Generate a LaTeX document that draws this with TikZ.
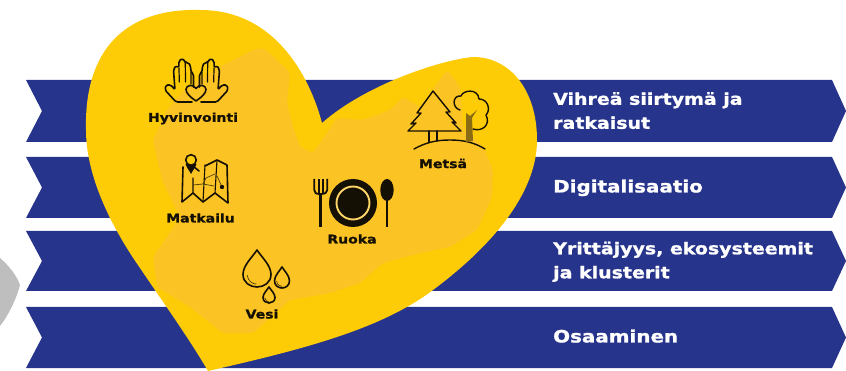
\documentclass[tikz,border=0pt]{standalone}
\usepackage{fontspec}
\setmainfont{DejaVu Sans}
\newfontfamily\heavyfont{DejaVu Sans}[UprightFont={* Bold},FakeStretch=1.17,FakeBold=1.2]
\usetikzlibrary{calc}
\definecolor{bandblue}{HTML}{27348B}
\definecolor{heartyellow}{HTML}{FECC07}
\definecolor{mapyellow}{HTML}{FCC324}
\definecolor{icondark}{HTML}{151004}
\definecolor{greyland}{HTML}{BEBEBE}
\definecolor{trunkcol}{HTML}{8A6C12}
\tikzset{
  band/.style={fill=bandblue,draw=none},
  bandtext/.style={text=white,font=\heavyfont\fontsize{17}{24}\selectfont,align=left,anchor=west,inner sep=0pt,text depth=0pt},
  bandtextsmall/.style={bandtext,font=\heavyfont\fontsize{16.2}{24}\selectfont},
  iconlabel/.style={text=icondark,font=\heavyfont\fontsize{12}{13}\selectfont,inner sep=0pt},
  iconline/.style={draw=icondark,line width=1.6pt,line join=round,line cap=round,fill=none},
  thinline/.style={draw=icondark!75!heartyellow,line width=0.7pt,line cap=round}
}
\newcommand{\bandshape}[2]{\fill[band] (26,#1) -- (832,#1) -- (846,{(#1+#2)/2}) -- (832,#2) -- (26,#2) -- (42,{(#1+#2)/2}) -- cycle;}
\newcommand{\dropshape}[4]{% cx, tip y, bottom y, half width
  \draw[iconline] (#1,#2) .. controls ({#1+0.35*#4},{#2+0.2*(#3-#2)}) and (#1+#4,{#2+0.42*(#3-#2)}) .. (#1+#4,{#2+0.66*(#3-#2)})
    .. controls (#1+#4,{#2+0.88*(#3-#2)}) and ({#1+0.5*#4},#3) .. (#1,#3)
    .. controls ({#1-0.5*#4},#3) and (#1-#4,{#2+0.88*(#3-#2)}) .. (#1-#4,{#2+0.66*(#3-#2)})
    .. controls (#1-#4,{#2+0.42*(#3-#2)}) and ({#1-0.35*#4},{#2+0.2*(#3-#2)}) .. cycle;
  \draw[thinline] ({#1-0.7*#4},{#2+0.68*(#3-#2)}) .. controls ({#1-0.65*#4},{#2+0.85*(#3-#2)}) and ({#1-0.3*#4},{#2+0.92*(#3-#2)}) .. ({#1-0.05*#4},{#2+0.92*(#3-#2)});
}
\newcommand{\handshape}{%
  \draw[iconline,rounded corners=1.6pt] (192,102) -- (176,102) -- (165,90) -- (166,85) -- (171,85) -- (175,90)
    -- (173.5,70) -- (176,65.5) -- (178.8,68) -- (179,61) -- (182,58.5) -- (185,61) -- (185.5,63) -- (188.5,62.5) -- (190.5,66) -- (191,72) -- (193.5,74) -- (193.5,87);
  \draw[iconline,line width=1.2pt] (179,68) -- (179.3,82) (185.3,63) -- (185.5,82) (191,72) -- (191,84);
}
\begin{document}
\begin{tikzpicture}[x=1pt,y=-1pt]
\useasboundingbox (0,0) rectangle (846,371);
\fill[white] (0,0) rectangle (846,371);
% grey neighbouring land
\fill[greyland] (0,258) .. controls (8,265) and (16,274) .. (20,285) .. controls (16,300) and (8,316) .. (0,326) -- cycle;
% bands
\bandshape{80}{142}
\bandshape{157}{218}
\bandshape{231}{291}
\bandshape{307}{368}
% heart
\fill[heartyellow] (322,123) .. controls (312,85) and (280,10) .. (200,10)
  .. controls (125,8) and (84,50) .. (86,130)
  .. controls (86,175) and (110,225) .. (140,268)
  .. controls (165,305) and (190,340) .. (208,371)
  .. controls (300,350) and (380,330) .. (433,290)
  .. controls (480,255) and (537,200) .. (537,140)
  .. controls (537,90) and (510,57) .. (473,57)
  .. controls (440,60) and (365,85) .. (322,123) -- cycle;
% region map
\fill[mapyellow,rounded corners=3pt] (253,50) -- (263,48) -- (277,60) -- (290,73) -- (287,103) -- (293,127) -- (300,147) -- (313,153) -- (327,133) -- (337,118) -- (363,120) -- (390,110) -- (403,97) -- (420,107) -- (447,70) -- (460,87) -- (463,127) -- (483,147) -- (493,170) -- (492,197) -- (477,230) -- (450,247) -- (420,253) -- (383,263) -- (360,283) -- (330,293) -- (290,300) -- (253,333) -- (223,333) -- (190,307) -- (157,287) -- (153,257) -- (167,237) -- (180,217) -- (162,180) -- (153,140) -- (167,110) -- (187,87) -- (220,67) -- cycle;
% hands icon
\handshape
\begin{scope}[xshift=393pt,xscale=-1]\handshape\end{scope}
\draw[iconline] (196,101) .. controls (190,97) and (186,93) .. (186,89.5) .. controls (186,85) and (193,83.5) .. (196,88.5) .. controls (199,83.5) and (206,85) .. (206,89.5) .. controls (206,93) and (202,97) .. (196,101) -- cycle;
% map icon
\draw[iconline] (183,167) -- (182,202) -- (193,193) -- (203,202) -- (215,193) -- (228,203) -- (227,165) -- (217,160) -- (205,166) (199,171) -- (193,166);
\draw[iconline,line width=1.1pt] (205,165) -- (203,202) (217,160) -- (215,193) (193,178) -- (193,193);
\draw[thinline] (193,185) -- (203,184) -- (206,178) -- (215,174) (203,184) -- (214,186) (217,176) -- (222,187);
\fill[icondark] (222,187) circle (2.2pt);
\fill[icondark] (185.5,164) .. controls (187,168) and (189.5,171) .. (191,174) .. controls (192.5,171) and (195,168) .. (196.5,164) -- cycle;
\draw[iconline,fill=heartyellow] (191,160) circle (5.3pt);
% tree icon
\draw[iconline,line width=1.4pt] (433,91) -- (417,113) -- (421,113) -- (411,124) -- (416,123) -- (408,131) -- (461,131) -- (452,122) -- (456,123) -- (446,112) -- (450,112) -- cycle;
\draw[iconline,line width=1.4pt] (429,131) -- (429,142) (437,131) -- (437,141);
\draw[iconline,line width=1.4pt] (414,149) .. controls (425,143) and (435,140) .. (450,140) .. controls (465,140) and (475,143) .. (485,149);
\draw[iconline,line width=1.4pt] (460,110) .. controls (452,108) and (452,95) .. (461,96) .. controls (463,90) and (478,88) .. (479,99) .. controls (488,99) and (491,110) .. (486,115) .. controls (491,125) and (482,132) .. (473,129);
\fill[trunkcol] (466,113) -- (470,116) -- (477,110) -- (472,118) -- (473,141) -- (466,142) -- cycle;
% plate icon
\fill[icondark] (353,203) circle (24pt);
\draw[mapyellow!70!white,line width=1.9pt] (353,203) circle (16.5pt);
% fork
\draw[icondark,line width=1.8pt] (314.3,179) -- (314.3,190) .. controls (314.3,193) and (316,194) .. (320,194) .. controls (325,194) and (327.3,193) .. (327.3,190) -- (327.3,179);
\draw[icondark,line width=1.8pt] (318.7,179) -- (318.7,193) (323,179) -- (323,193);
\draw[icondark,line width=2.8pt] (320.5,193) -- (320.5,227);
% spoon
\fill[icondark] (387,190) ellipse (6.7pt and 11pt);
\draw[icondark,line width=2.6pt] (387,198) -- (387,227);
% drops
\dropshape{257}{250}{287}{14}
\dropshape{282}{267}{288}{7.5}
\dropshape{269}{287}{303}{6}
% labels
\node[iconlabel] (hyv) at (193,118.5) {Hyvinvointi};
\node[iconlabel] (mat) at (200.5,218) {Matkailu};
\node[iconlabel] (ves) at (262,314) {Vesi};
\node[iconlabel] (ruo) at (352,239) {Ruoka};
\node[iconlabel] (met) at (443,163.5) {Metsä};
\node[bandtextsmall] (t1) at (553,110.5) {Vihreä siirtymä ja\\ratkaisut};
\node[bandtext] (t2) at (553,186) {Digitalisaatio};
\node[bandtextsmall] (t3) at (553,260) {Yrittäjyys, ekosysteemit\\ja klusterit};
\node[bandtext] (t4) at (553,336) {Osaaminen};
\end{tikzpicture}
\end{document}
